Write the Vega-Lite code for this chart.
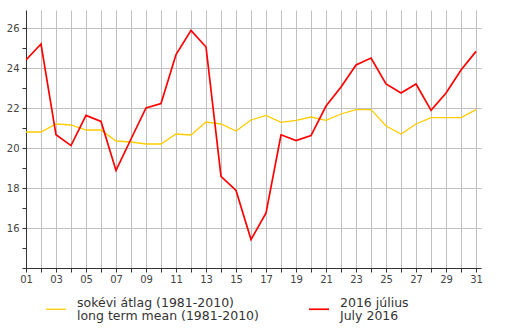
{
  "$schema": "https://vega.github.io/schema/vega-lite/v6.json",
  "width": 455,
  "height": 258,
  "autosize": {"type": "none"},
  "padding": {"left": 26, "top": 10, "right": 24, "bottom": 60},
  "background": "white",
  "config": {
    "view": {"stroke": null},
    "font": "DejaVu Sans"
  },
  "datasets": {
    "t": [
      {"day": 1, "s": "sokévi átlag (1981-2010)|long term mean (1981-2010)", "v": 20.8},
      {"day": 2, "s": "sokévi átlag (1981-2010)|long term mean (1981-2010)", "v": 20.8},
      {"day": 3, "s": "sokévi átlag (1981-2010)|long term mean (1981-2010)", "v": 21.2},
      {"day": 4, "s": "sokévi átlag (1981-2010)|long term mean (1981-2010)", "v": 21.15},
      {"day": 5, "s": "sokévi átlag (1981-2010)|long term mean (1981-2010)", "v": 20.9},
      {"day": 6, "s": "sokévi átlag (1981-2010)|long term mean (1981-2010)", "v": 20.9},
      {"day": 7, "s": "sokévi átlag (1981-2010)|long term mean (1981-2010)", "v": 20.35},
      {"day": 8, "s": "sokévi átlag (1981-2010)|long term mean (1981-2010)", "v": 20.3},
      {"day": 9, "s": "sokévi átlag (1981-2010)|long term mean (1981-2010)", "v": 20.2},
      {"day": 10, "s": "sokévi átlag (1981-2010)|long term mean (1981-2010)", "v": 20.2},
      {"day": 11, "s": "sokévi átlag (1981-2010)|long term mean (1981-2010)", "v": 20.7},
      {"day": 12, "s": "sokévi átlag (1981-2010)|long term mean (1981-2010)", "v": 20.65},
      {"day": 13, "s": "sokévi átlag (1981-2010)|long term mean (1981-2010)", "v": 21.3},
      {"day": 14, "s": "sokévi átlag (1981-2010)|long term mean (1981-2010)", "v": 21.2},
      {"day": 15, "s": "sokévi átlag (1981-2010)|long term mean (1981-2010)", "v": 20.85},
      {"day": 16, "s": "sokévi átlag (1981-2010)|long term mean (1981-2010)", "v": 21.4},
      {"day": 17, "s": "sokévi átlag (1981-2010)|long term mean (1981-2010)", "v": 21.63},
      {"day": 18, "s": "sokévi átlag (1981-2010)|long term mean (1981-2010)", "v": 21.28},
      {"day": 19, "s": "sokévi átlag (1981-2010)|long term mean (1981-2010)", "v": 21.38},
      {"day": 20, "s": "sokévi átlag (1981-2010)|long term mean (1981-2010)", "v": 21.55},
      {"day": 21, "s": "sokévi átlag (1981-2010)|long term mean (1981-2010)", "v": 21.38},
      {"day": 22, "s": "sokévi átlag (1981-2010)|long term mean (1981-2010)", "v": 21.7},
      {"day": 23, "s": "sokévi átlag (1981-2010)|long term mean (1981-2010)", "v": 21.92},
      {"day": 24, "s": "sokévi átlag (1981-2010)|long term mean (1981-2010)", "v": 21.92},
      {"day": 25, "s": "sokévi átlag (1981-2010)|long term mean (1981-2010)", "v": 21.1},
      {"day": 26, "s": "sokévi átlag (1981-2010)|long term mean (1981-2010)", "v": 20.7},
      {"day": 27, "s": "sokévi átlag (1981-2010)|long term mean (1981-2010)", "v": 21.2},
      {"day": 28, "s": "sokévi átlag (1981-2010)|long term mean (1981-2010)", "v": 21.52},
      {"day": 29, "s": "sokévi átlag (1981-2010)|long term mean (1981-2010)", "v": 21.52},
      {"day": 30, "s": "sokévi átlag (1981-2010)|long term mean (1981-2010)", "v": 21.52},
      {"day": 31, "s": "sokévi átlag (1981-2010)|long term mean (1981-2010)", "v": 21.92},
      {"day": 1, "s": "2016 július|July 2016", "v": 24.4},
      {"day": 2, "s": "2016 július|July 2016", "v": 25.2},
      {"day": 3, "s": "2016 július|July 2016", "v": 20.66},
      {"day": 4, "s": "2016 július|July 2016", "v": 20.12},
      {"day": 5, "s": "2016 július|July 2016", "v": 21.63},
      {"day": 6, "s": "2016 július|July 2016", "v": 21.33},
      {"day": 7, "s": "2016 július|July 2016", "v": 18.88},
      {"day": 8, "s": "2016 július|July 2016", "v": 20.45},
      {"day": 9, "s": "2016 július|July 2016", "v": 22.0},
      {"day": 10, "s": "2016 július|July 2016", "v": 22.22},
      {"day": 11, "s": "2016 július|July 2016", "v": 24.67},
      {"day": 12, "s": "2016 július|July 2016", "v": 25.88},
      {"day": 13, "s": "2016 július|July 2016", "v": 25.05},
      {"day": 14, "s": "2016 július|July 2016", "v": 18.58},
      {"day": 15, "s": "2016 július|July 2016", "v": 17.88},
      {"day": 16, "s": "2016 július|July 2016", "v": 15.42},
      {"day": 17, "s": "2016 július|July 2016", "v": 16.75},
      {"day": 18, "s": "2016 július|July 2016", "v": 20.66},
      {"day": 19, "s": "2016 július|July 2016", "v": 20.37},
      {"day": 20, "s": "2016 július|July 2016", "v": 20.62},
      {"day": 21, "s": "2016 július|July 2016", "v": 22.1},
      {"day": 22, "s": "2016 július|July 2016", "v": 23.05},
      {"day": 23, "s": "2016 július|July 2016", "v": 24.15},
      {"day": 24, "s": "2016 július|July 2016", "v": 24.5},
      {"day": 25, "s": "2016 július|July 2016", "v": 23.2},
      {"day": 26, "s": "2016 július|July 2016", "v": 22.75},
      {"day": 27, "s": "2016 július|July 2016", "v": 23.2},
      {"day": 28, "s": "2016 július|July 2016", "v": 21.88},
      {"day": 29, "s": "2016 július|July 2016", "v": 22.75},
      {"day": 30, "s": "2016 július|July 2016", "v": 23.9},
      {"day": 31, "s": "2016 július|July 2016", "v": 24.83}
    ]
  },
  "data": {"name": "t"},
  "mark": {"type": "line", "interpolate": "linear", "clip": true},
  "encoding": {
    "x": {
      "field": "day",
      "type": "quantitative",
      "scale": {"domain": [1, 31.33], "nice": false, "zero": false},
      "axis": {
        "title": null,
        "values": [1,2,3,4,5,6,7,8,9,10,11,12,13,14,15,16,17,18,19,20,21,22,23,24,25,26,27,28,29,30,31],
        "labelExpr": "datum.value % 2 == 1 ? (datum.value < 10 ? '0' + datum.value : '' + datum.value) : ''",
        "grid": true,
        "gridColor": "#c0c0c0",
        "gridOpacity": 1,
        "gridWidth": 1,
        "domainColor": "#333333",
        "domainWidth": 1,
        "tickColor": "#333333",
        "tickSize": 4,
        "labelFontSize": 10,
        "labelColor": "#444444",
        "labelPadding": 2,
        "labelFlush": false,
        "labelOverlap": false
      }
    },
    "y": {
      "field": "v",
      "type": "quantitative",
      "scale": {"domain": [14, 26.9], "nice": false, "zero": false},
      "axis": {
        "title": null,
        "values": [14,15,16,17,18,19,20,21,22,23,24,25,26],
        "labelExpr": "datum.value % 2 == 0 && datum.value > 14 ? '' + datum.value : ''",
        "grid": true,
        "gridColor": "#c0c0c0",
        "gridOpacity": {"condition": {"test": "datum.value % 2 == 0", "value": 1}, "value": 0},
        "gridWidth": 1,
        "domainColor": "#333333",
        "domainWidth": 1,
        "tickColor": "#333333",
        "tickSize": 4,
        "labelFontSize": 10,
        "labelColor": "#444444",
        "labelPadding": 3,
        "labelFlush": false,
        "labelOverlap": false
      }
    },
    "color": {
      "field": "s",
      "type": "nominal",
      "sort": null,
      "scale": {
        "domain": ["sokévi átlag (1981-2010)|long term mean (1981-2010)", "2016 július|July 2016"],
        "range": ["#FFCC00", "#FF0000"]
      },
      "legend": {
        "title": null,
        "orient": "none",
        "legendX": 19,
        "legendY": 288,
        "direction": "horizontal",
        "columns": 2,
        "columnPadding": 46,
        "symbolType": "stroke",
        "symbolSize": 400,
        "symbolStrokeWidth": 2,
        "labelExpr": "split(datum.label, '|')",
        "labelFontSize": 12.5,
        "labelColor": "#333333",
        "labelOffset": 10,
        "labelLimit": 300,
        "encode": {
          "labels": {"update": {"dy": {"value": -6}, "lineHeight": {"value": 13}}}
        }
      }
    },
    "strokeWidth": {
      "field": "s",
      "type": "nominal",
      "scale": {
        "domain": ["sokévi átlag (1981-2010)|long term mean (1981-2010)", "2016 július|July 2016"],
        "range": [1.3, 1.7]
      },
      "legend": null
    }
  }
}
